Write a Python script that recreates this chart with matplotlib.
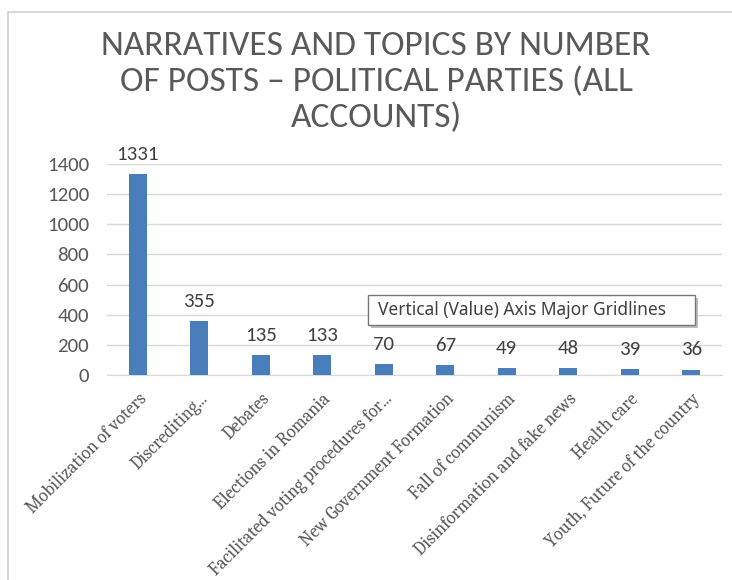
import matplotlib.pyplot as plt
from matplotlib.patches import Rectangle

topics = ["Mobilization of voters", "Discrediting...", "Debates", "Elections in Romania",
          "Facilitated voting procedures for...", "New Government Formation",
          "Fall of communism", "Disinformation and fake news", "Health care",
          "Youth, Future of the country"]
posts = [1331, 355, 135, 133, 70, 67, 49, 48, 39, 36]
yticks = [0, 200, 400, 600, 800, 1000, 1200, 1400]

fig = plt.figure(figsize=(7.32, 5.8), dpi=100)
W, H = 732, 580

# outer chart frame
fig.patches.append(Rectangle((8 / W, -0.01), 1.0, 1 - 12 / H + 0.01, transform=fig.transFigure,
                             fill=False, edgecolor="#d0d0d0", linewidth=1.2))

ax = fig.add_axes([107 / W, 1 - 375 / H, 615 / W, 211 / H])
x = range(len(topics))
ax.bar(x, posts, width=0.29, color="#4A7EBB", zorder=3)
ax.set_xlim(-0.5, len(topics) - 0.5)
ax.set_ylim(0, 1400)
ax.set_yticks(yticks)
ax.set_yticklabels([str(v) for v in yticks], fontsize=15, color="#595959", family="Carlito")
ax.yaxis.grid(True, color="#d9d9d9", linewidth=1, zorder=0)
ax.tick_params(axis="y", length=0, pad=13)
ax.tick_params(axis="x", length=0, pad=11)
ax.set_xticks(list(x))
ax.set_xticklabels(topics, rotation=45, ha="right", rotation_mode="anchor",
                   fontsize=13, color="#595959", family="Caladea")
for s in ["top", "right", "left"]:
    ax.spines[s].set_visible(False)
ax.spines["bottom"].set_color("#d9d9d9")

for i, v in enumerate(posts):
    ax.annotate(str(v), (i, v), xytext=(0, 8), textcoords="offset points",
                ha="center", va="bottom", fontsize=15, color="#404040", family="Carlito")

fig.text(376 / W, 1 - 31 / H, "NARRATIVES AND TOPICS BY NUMBER\nOF POSTS \u2013 POLITICAL PARTIES (ALL\nACCOUNTS)",
         ha="center", va="top", fontsize=25.5, color="#595959", family="Carlito", linespacing=1.22)

# Excel hover tooltip captured in the screenshot
fig.patches.append(Rectangle((371 / W, 1 - 328 / H), 327 / W, 30 / H, transform=fig.transFigure,
                             facecolor="#bdbdbd", edgecolor="none", zorder=4))
fig.patches.append(Rectangle((368 / W, 1 - 325 / H), 327 / W, 30 / H, transform=fig.transFigure,
                             facecolor="white", edgecolor="#767676", linewidth=1, zorder=5))
fig.text(378 / W, 1 - 310 / H, "Vertical (Value) Axis Major Gridlines", ha="left", va="center",
         fontsize=12.5, color="#404040", family="Noto Sans", zorder=6)

plt.savefig("out.png", dpi=100)
